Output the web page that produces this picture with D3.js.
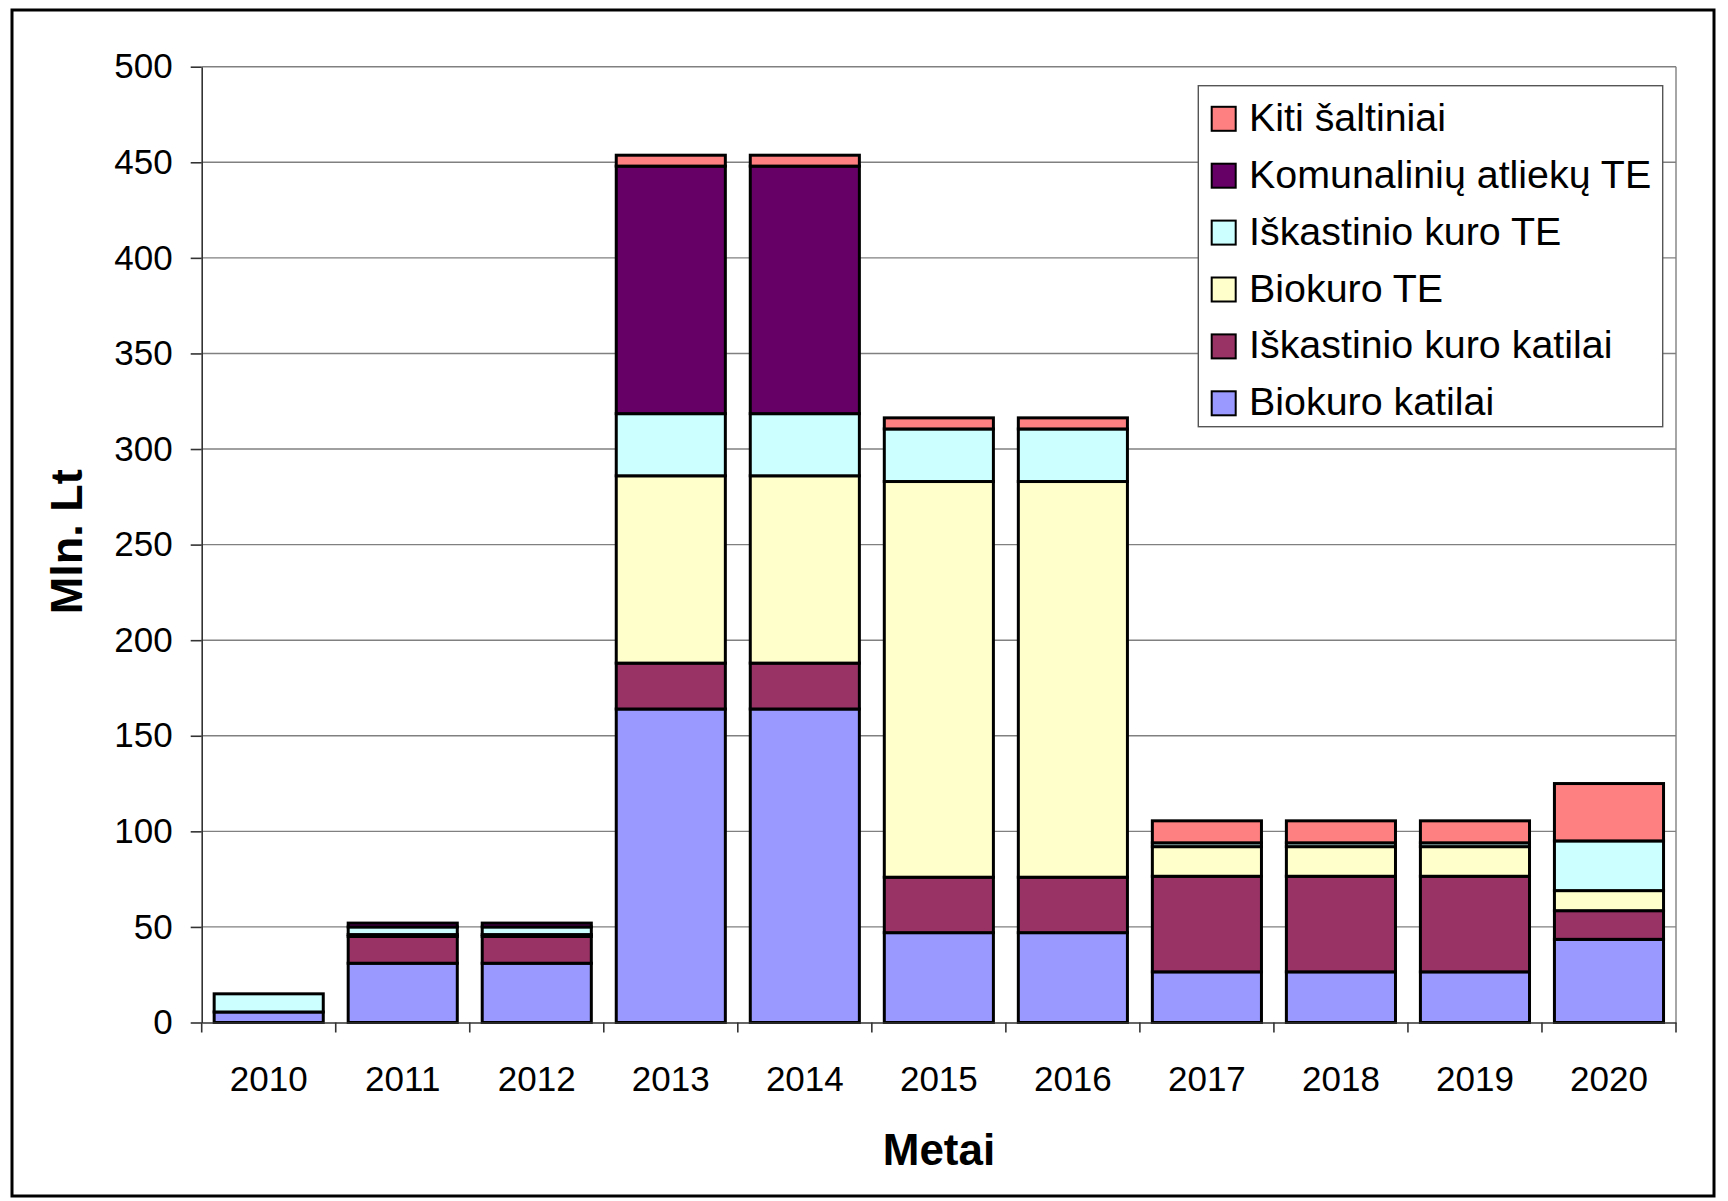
<!DOCTYPE html>
<html>
<head>
<meta charset="utf-8">
<script src="https://cdn.jsdelivr.net/npm/d3@7"></script>
<style>
  html, body { margin: 0; padding: 0; background: #ffffff; }
  svg { display: block; font-family: "Liberation Sans", Arial, sans-serif; }
</style>
</head>
<body>
<svg id="chart" width="1728" height="1201"></svg>
<script>
// Investment by heat source type, million Lt, per year
const years = ["2010", "2011", "2012", "2013", "2014", "2015", "2016", "2017", "2018", "2019", "2020"];

const seriesNames = [
  "Biokuro katilai",
  "Iškastinio kuro katilai",
  "Biokuro TE",
  "Iškastinio kuro TE",
  "Komunalinių atliekų TE",
  "Kiti šaltiniai"
];

const biokuroKatilai      = [5.5, 31, 31, 164, 164, 47, 47, 26.5, 26.5, 26.5, 43.5];
const iskastinioKatilai   = [0, 14, 14, 24, 24, 29, 29, 50, 50, 50, 15];
const biokuroTE           = [0, 1, 1, 98, 98, 207, 207, 15.5, 15.5, 15.5, 10.5];
const iskastinioTE        = [9.5, 4, 4, 32.5, 32.5, 27.5, 27.5, 2, 2, 2, 26];
const komunaliniuTE       = [0, 2, 2, 129.5, 129.5, 0, 0, 0, 0, 0, 0];
const kitiSaltiniai       = [0, 0, 0, 5.7, 5.7, 5.8, 5.8, 11.5, 11.5, 11.5, 30];

const seriesColors = ["#9999FF", "#993366", "#FFFFCC", "#CCFFFF", "#660066", "#FF8080"];

const yTicks = [0, 50, 100, 150, 200, 250, 300, 350, 400, 450, 500];

const seriesValues = [biokuroKatilai, iskastinioKatilai, biokuroTE, iskastinioTE, komunaliniuTE, kitiSaltiniai];

const rows = years.map((yr, i) => {
  const r = { year: yr };
  seriesNames.forEach((name, s) => { r[name] = seriesValues[s][i]; });
  return r;
});

const svg = d3.select("#chart");

// outer frame
svg.append("rect")
  .attr("x", 12).attr("y", 10)
  .attr("width", 1702).attr("height", 1186)
  .attr("fill", "#fff").attr("stroke", "#000").attr("stroke-width", 3);

const plotLeft = 201.7, plotRight = 1676, plotTop = 66.7, plotBottom = 1022.5;

const x = d3.scaleBand().domain(years).range([plotLeft, plotRight]).paddingInner(0.186).paddingOuter(0.093);
const y = d3.scaleLinear().domain([0, 500]).range([plotBottom, plotTop]);

// gridlines
svg.append("g")
  .selectAll("line")
  .data(yTicks.filter(d => d > 0))
  .join("line")
  .attr("x1", plotLeft).attr("x2", plotRight)
  .attr("y1", d => y(d)).attr("y2", d => y(d))
  .attr("stroke", "#808080").attr("stroke-width", 1.4);

// right edge of plot area
svg.append("line")
  .attr("x1", plotRight).attr("x2", plotRight).attr("y1", plotTop).attr("y2", plotBottom)
  .attr("stroke", "#808080").attr("stroke-width", 1.4);

// stacked bars
const stack = d3.stack().keys(seriesNames);
const stacked = stack(rows);

const barGroups = svg.append("g")
  .selectAll("g")
  .data(stacked)
  .join("g")
  .attr("fill", (d, i) => seriesColors[i]);

barGroups.selectAll("rect")
  .data(d => d.filter(p => p[1] - p[0] > 0))
  .join("rect")
  .attr("x", d => x(d.data.year))
  .attr("width", x.bandwidth())
  .attr("y", d => y(d[1]))
  .attr("height", d => y(d[0]) - y(d[1]))
  .attr("stroke", "#000")
  .attr("stroke-width", 3);

// y axis
const yAxis = d3.axisLeft(y).tickValues(yTicks).tickSize(11).tickPadding(18).tickSizeOuter(0);
const yg = svg.append("g").attr("transform", `translate(${plotLeft},0)`).call(yAxis);
yg.select(".domain").attr("stroke", "#333").attr("stroke-width", 1.6);
yg.selectAll(".tick line").attr("stroke", "#333").attr("stroke-width", 1.6);
yg.selectAll(".tick text")
  .attr("font-size", 35).attr("fill", "#000")
  .attr("font-family", "Liberation Sans, Arial, sans-serif");

// x axis
const xAxis = d3.axisBottom(x).tickSize(0).tickPadding(0).tickSizeOuter(0);
const xg = svg.append("g").attr("transform", `translate(0,${plotBottom})`).call(xAxis);
xg.select(".domain").attr("stroke", "#333").attr("stroke-width", 1.6);
xg.selectAll(".tick text")
  .attr("font-size", 35).attr("fill", "#000")
  .attr("font-family", "Liberation Sans, Arial, sans-serif")
  .attr("y", 68).attr("dy", 0);

// category separators below the x axis
const boundaries = years.map((yr, i) => plotLeft + i * x.step()).concat([plotRight]);
svg.append("g")
  .selectAll("line")
  .data(boundaries)
  .join("line")
  .attr("x1", d => d).attr("x2", d => d)
  .attr("y1", plotBottom).attr("y2", plotBottom + 10)
  .attr("stroke", "#333").attr("stroke-width", 1.6);

// axis titles
svg.append("text")
  .attr("x", 939).attr("y", 1165)
  .attr("text-anchor", "middle")
  .attr("font-size", 44).attr("font-weight", "bold")
  .text("Metai");

svg.append("text")
  .attr("transform", "translate(81.5,541.7) rotate(-90)")
  .attr("text-anchor", "middle")
  .attr("font-size", 45).attr("font-weight", "bold")
  .text("Mln. Lt");

// legend
const lg = svg.append("g");
lg.append("rect")
  .attr("x", 1198.3).attr("y", 85.7)
  .attr("width", 464.4).attr("height", 341)
  .attr("fill", "#fff").attr("stroke", "#555").attr("stroke-width", 1.4);

const legendOrder = seriesNames.map((n, i) => ({ name: n, color: seriesColors[i] })).reverse();
const items = lg.selectAll("g.item")
  .data(legendOrder)
  .join("g")
  .attr("class", "item")
  .attr("transform", (d, i) => `translate(0,${118.3 + i * 56.9})`);

items.append("rect")
  .attr("x", 1211.7).attr("y", -11.5)
  .attr("width", 24).attr("height", 24)
  .attr("fill", d => d.color)
  .attr("stroke", "#000").attr("stroke-width", 2);

items.append("text")
  .attr("x", 1249).attr("y", 12.5)
  .attr("font-size", 39.4)
  .text(d => d.name);
</script>
</body>
</html>
